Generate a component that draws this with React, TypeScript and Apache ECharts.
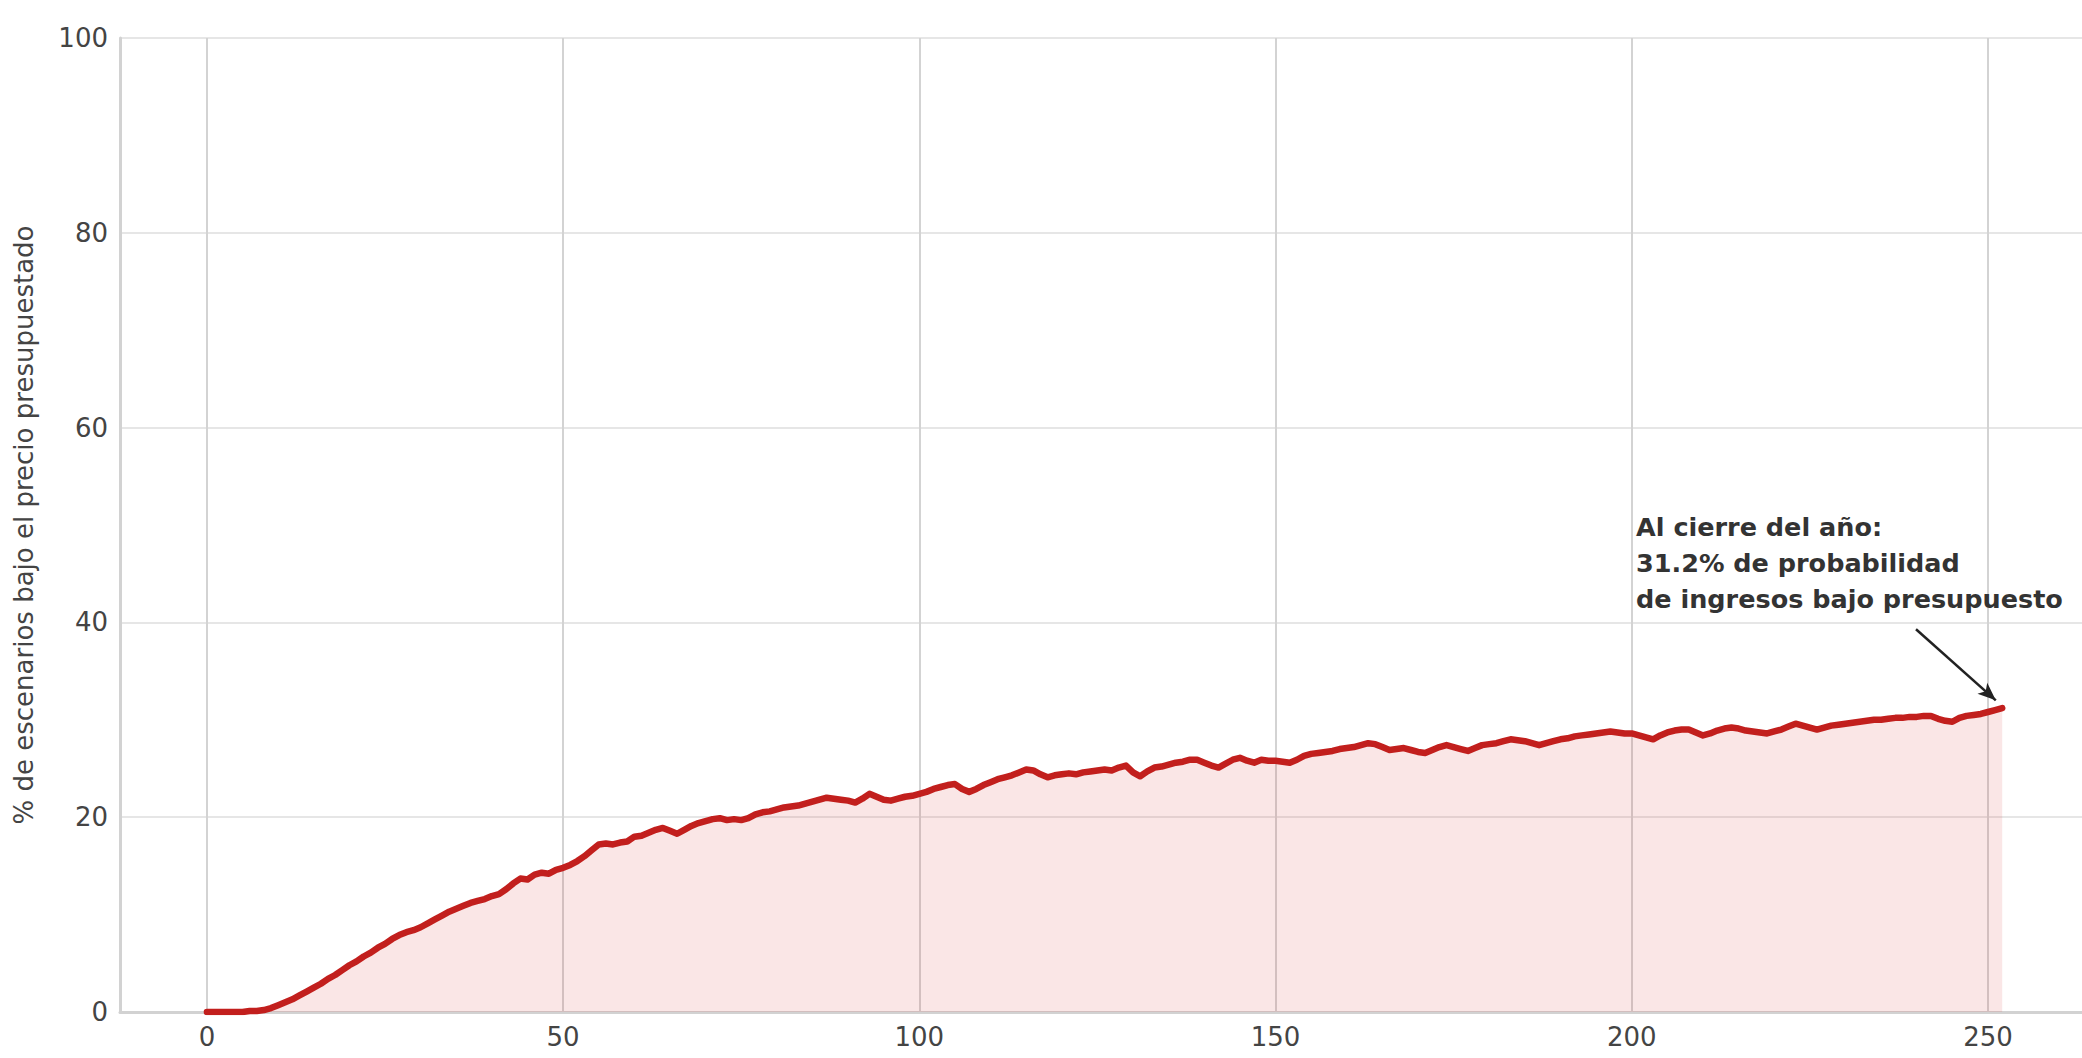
import React, { useEffect, useRef } from "react";
import * as echarts from "echarts";

// % of scenarios below budgeted price, per trading day (day index = position)
const pctBelow: number[] = [
  0, 0, 0, 0, 0, 0, 0.1, 0.1, 0.2, 0.4,
  0.7, 1.0, 1.3, 1.7, 2.1, 2.5, 2.9, 3.4, 3.8, 4.3,
  4.8, 5.2, 5.7, 6.1, 6.6, 7.0, 7.5, 7.9, 8.2, 8.4,
  8.7, 9.1, 9.5, 9.9, 10.3, 10.6, 10.9, 11.2, 11.4, 11.6,
  11.9, 12.1, 12.6, 13.2, 13.7, 13.6, 14.1, 14.3, 14.2, 14.6,
  14.8, 15.1, 15.5, 16.0, 16.6, 17.2, 17.3, 17.2, 17.4, 17.5,
  18.0, 18.1, 18.4, 18.7, 18.9, 18.6, 18.3, 18.7, 19.1, 19.4,
  19.6, 19.8, 19.9, 19.7, 19.8, 19.7, 19.9, 20.3, 20.5, 20.6,
  20.8, 21.0, 21.1, 21.2, 21.4, 21.6, 21.8, 22.0, 21.9, 21.8,
  21.7, 21.5, 21.9, 22.4, 22.1, 21.8, 21.7, 21.9, 22.1, 22.2,
  22.4, 22.6, 22.9, 23.1, 23.3, 23.4, 22.9, 22.6, 22.9, 23.3,
  23.6, 23.9, 24.1, 24.3, 24.6, 24.9, 24.8, 24.4, 24.1, 24.3,
  24.4, 24.5, 24.4, 24.6, 24.7, 24.8, 24.9, 24.8, 25.1, 25.3,
  24.6, 24.2, 24.7, 25.1, 25.2, 25.4, 25.6, 25.7, 25.9, 25.9,
  25.6, 25.3, 25.1, 25.5, 25.9, 26.1, 25.8, 25.6, 25.9, 25.8,
  25.8, 25.7, 25.6, 25.9, 26.3, 26.5, 26.6, 26.7, 26.8, 27.0,
  27.1, 27.2, 27.4, 27.6, 27.5, 27.2, 26.9, 27.0, 27.1, 26.9,
  26.7, 26.6, 26.9, 27.2, 27.4, 27.2, 27.0, 26.8, 27.1, 27.4,
  27.5, 27.6, 27.8, 28.0, 27.9, 27.8, 27.6, 27.4, 27.6, 27.8,
  28.0, 28.1, 28.3, 28.4, 28.5, 28.6, 28.7, 28.8, 28.7, 28.6,
  28.6, 28.4, 28.2, 28.0, 28.4, 28.7, 28.9, 29.0, 29.0, 28.7,
  28.4, 28.6, 28.9, 29.1, 29.2, 29.1, 28.9, 28.8, 28.7, 28.6,
  28.8, 29.0, 29.3, 29.6, 29.4, 29.2, 29.0, 29.2, 29.4, 29.5,
  29.6, 29.7, 29.8, 29.9, 30.0, 30.0, 30.1, 30.2, 30.2, 30.3,
  30.3, 30.4, 30.4, 30.1, 29.9, 29.8, 30.2, 30.4, 30.5, 30.6,
  30.8, 31.0, 31.2,
];

const xTicks: number[] = [0, 50, 100, 150, 200, 250];
const yTicks: number[] = [0, 20, 40, 60, 80, 100];
const yAxisTitle = "% de escenarios bajo el precio presupuestado";
const annotationLines: string[] = [
  "Al cierre del año:",
  "31.2% de probabilidad",
  "de ingresos bajo presupuesto",
];

const X_MIN = -12.2;
const X_MAX = 263.2;
const ARROW_FROM: [number, number] = [239.9, 39.3];
const ARROW_TO: [number, number] = [251.1, 32.0];
const TEXT_ANCHOR: [number, number] = [200.6, 51.6];

const FONT = "DejaVu Sans";

export default function App() {
  const ref = useRef<HTMLDivElement>(null);

  useEffect(() => {
    if (!ref.current) return;
    document.body.style.margin = "0";
    const chart = echarts.init(ref.current, undefined, { renderer: "svg" });
    const seriesData = pctBelow.map((v, i) => [i, v]);

    chart.setOption({
      animation: false,
      backgroundColor: "#ffffff",
      textStyle: { fontFamily: FONT },
      grid: { left: 120, right: 0, top: 38, bottom: 46, containLabel: false },
      xAxis: {
        type: "value",
        min: X_MIN,
        max: X_MAX,
        axisLine: { show: true, onZero: false, lineStyle: { color: "#d2d2d2", width: 3 } },
        axisTick: { show: false, customValues: xTicks },
        axisLabel: { customValues: xTicks, fontSize: 26, color: "#444444", margin: 12, fontFamily: FONT },
        splitLine: { show: true, lineStyle: { color: "#d3d3d3", width: 2 } },
      },
      yAxis: {
        type: "value",
        min: yTicks[0],
        max: yTicks[yTicks.length - 1],
        interval: 20,
        name: yAxisTitle,
        nameLocation: "middle",
        nameRotate: 90,
        nameGap: 83,
        nameTextStyle: { fontSize: 26, color: "#444444", fontFamily: FONT },
        axisLine: { show: true, onZero: false, lineStyle: { color: "#d2d2d2", width: 3 } },
        axisTick: { show: false },
        axisLabel: { fontSize: 26, color: "#444444", margin: 12, fontFamily: FONT },
        splitLine: { show: true, lineStyle: { color: "#e6e6e6", width: 2 } },
      },
      series: [
        {
          type: "line",
          data: seriesData,
          symbol: "none",
          showSymbol: false,
          lineStyle: { color: "#c21f1d", width: 6.5, join: "round", cap: "round" },
          areaStyle: { color: "rgba(214,39,40,0.17)", origin: "start" },
          z: 3,
          markLine: {
            silent: true,
            symbol: ["none", "arrow"],
            symbolSize: [11, 18],
            label: { show: false },
            lineStyle: { color: "#222222", width: 2.5, type: "solid" },
            data: [[{ coord: ARROW_FROM }, { coord: ARROW_TO }]],
          },
        },
      ],
    });

    const [px, py] = chart.convertToPixel({ gridIndex: 0 }, TEXT_ANCHOR) as number[];
    chart.setOption({
      graphic: [
        {
          type: "text",
          x: px,
          y: py,
          silent: true,
          style: {
            text: annotationLines.join("\n"),
            font: `bold 25.5px "${FONT}"`,
            fill: "#333333",
            lineHeight: 36,
            verticalAlign: "top",
            align: "left",
          },
        },
      ],
    });

    return () => chart.dispose();
  }, []);

  return (
    <div
      ref={ref}
      style={{ position: "absolute", left: 0, top: 0, width: 2082, height: 1058 }}
    />
  );
}
